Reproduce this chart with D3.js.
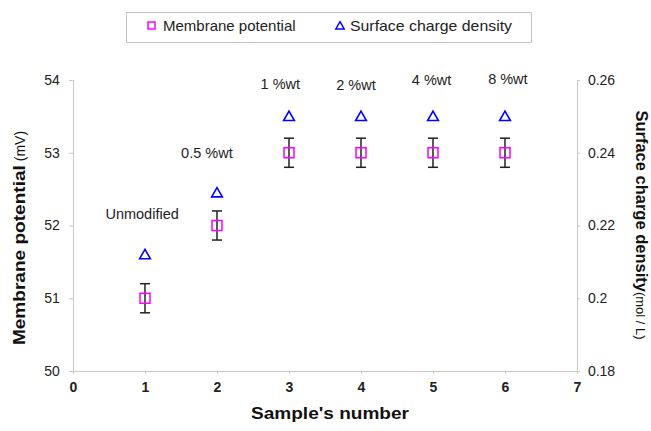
<!DOCTYPE html>
<html>
<head>
<meta charset="utf-8">
<script src="https://cdn.jsdelivr.net/npm/d3@7"></script>
<style>
  body { margin: 0; background: #fff; }
  text { font-family: "Liberation Sans", Arial, sans-serif; }
</style>
</head>
<body>
<script>
const samples = [1, 2, 3, 4, 5, 6];
const potential = [51, 52, 53, 53, 53, 53];
const potentialErr = [0.2, 0.2, 0.2, 0.2, 0.2, 0.2];
const chargeDensity = [0.212, 0.229, 0.25, 0.25, 0.25, 0.25];
const sampleLabels = ["Unmodified", "0.5 %wt", "1 %wt", "2 %wt", "4 %wt", "8 %wt"];
// annotation anchor: [sample units shift, mV above the point]
const labelShift = [[-0.04, 1.09], [-0.14, 0.93], [-0.12, 0.88], [-0.07, 0.86], [-0.02, 0.93], [0.04, 0.95]];
const xTicks = [0, 1, 2, 3, 4, 5, 6, 7];
const yLeftTicks = [50, 51, 52, 53, 54];
const yRightTicks = [0.18, 0.2, 0.22, 0.24, 0.26];

const width = 651, height = 431;
const svg = d3.select("body").append("svg")
  .attr("width", width).attr("height", height);

const x = d3.scaleLinear().domain([0, 7]).range([73, 577]);
const y = d3.scaleLinear().domain([50, 54]).range([371, 80]);
const y2 = d3.scaleLinear().domain([0.18, 0.26]).range([371, 80]);

const grey = "#c8c8c8";

// axes
const xAxis = svg.append("g").attr("transform", "translate(0,371)")
  .call(d3.axisBottom(x).tickValues(xTicks).tickFormat(d3.format("d")).tickSize(3));
const yAxis = svg.append("g").attr("transform", "translate(73,0)")
  .call(d3.axisLeft(y).tickValues(yLeftTicks).tickFormat(d3.format("d")).tickSize(4));
const y2Axis = svg.append("g").attr("transform", "translate(577,0)")
  .call(d3.axisRight(y2).tickValues(yRightTicks).tickFormat(d => String(+d.toFixed(2))).tickSize(3));

[xAxis, yAxis, y2Axis].forEach(g => {
  g.selectAll("path, line").attr("stroke", grey);
  g.selectAll("text").attr("fill", "#222").attr("font-size", 14)
    .style("font-family", "Liberation Sans, Arial, sans-serif");
});
xAxis.selectAll("text").attr("font-weight", "bold").attr("dy", "1.05em");
yAxis.selectAll("text").attr("dx", "-0.45em");
y2Axis.selectAll("text").attr("dx", "0.35em");

// axis titles
svg.append("text")
  .attr("x", 330).attr("y", 419)
  .attr("text-anchor", "middle").attr("font-weight", "bold").attr("font-size", 17)
  .attr("textLength", 158).attr("lengthAdjust", "spacingAndGlyphs")
  .attr("fill", "#111").text("Sample's number");

const lt = svg.append("text")
  .attr("transform", "translate(25,238) rotate(-90)")
  .attr("text-anchor", "middle").attr("fill", "#111");
lt.append("tspan").attr("font-weight", "bold").attr("font-size", 17)
  .attr("textLength", 180).attr("lengthAdjust", "spacingAndGlyphs").text("Membrane potential");
lt.append("tspan").attr("font-size", 14).text(" (mV)");

const rt = svg.append("text")
  .attr("transform", "translate(636,225) rotate(90)")
  .attr("text-anchor", "middle").attr("fill", "#111");
rt.append("tspan").attr("font-weight", "bold").attr("font-size", 16.5).text("Surface charge density");
rt.append("tspan").attr("font-size", 13).text("(mol / L)");

// error bars
const eb = svg.append("g").attr("stroke", "#222").attr("stroke-width", 1.5);
samples.forEach((s, i) => {
  const cx = x(s);
  const top = y(potential[i] + potentialErr[i]);
  const bot = y(potential[i] - potentialErr[i]);
  eb.append("line").attr("x1", cx).attr("x2", cx).attr("y1", top).attr("y2", bot);
  eb.append("line").attr("x1", cx - 5).attr("x2", cx + 5).attr("y1", top).attr("y2", top);
  eb.append("line").attr("x1", cx - 5).attr("x2", cx + 5).attr("y1", bot).attr("y2", bot);
});

// squares
svg.append("g").selectAll("rect").data(samples).join("rect")
  .attr("x", d => x(d) - 5).attr("y", (d, i) => y(potential[i]) - 5)
  .attr("width", 10).attr("height", 10)
  .attr("fill", "none").attr("stroke", "#ff00ff").attr("stroke-width", 1.5);

// triangles
const tri = d3.symbol().type(d3.symbolTriangle).size(50);
svg.append("g").selectAll("path").data(samples).join("path")
  .attr("d", tri)
  .attr("transform", (d, i) => `translate(${x(d)},${y2(chargeDensity[i]) + 1})`)
  .attr("fill", "none").attr("stroke", "#0000ff").attr("stroke-width", 1.6);

// sample labels
svg.append("g").selectAll("text").data(sampleLabels).join("text")
  .attr("x", (d, i) => x(samples[i] + labelShift[i][0]))
  .attr("y", (d, i) => y(potential[i] + labelShift[i][1]))
  .attr("text-anchor", "middle")
  .attr("font-size", 14.5).attr("fill", "#222")
  .text(d => d);

// legend
const lg = svg.append("g");
lg.append("rect").attr("x", 126.5).attr("y", 12.5).attr("width", 405).attr("height", 30)
  .attr("fill", "#fff").attr("stroke", "#c4c4c4");
lg.append("rect").attr("x", 148).attr("y", 22).attr("width", 7).attr("height", 7)
  .attr("fill", "none").attr("stroke", "#ff00ff").attr("stroke-width", 1.5);
lg.append("text").attr("x", 163).attr("y", 31).attr("font-size", 15).attr("fill", "#222")
  .text("Membrane potential");
lg.append("path").attr("d", d3.symbol().type(d3.symbolTriangle).size(30))
  .attr("transform", "translate(340,26.5)")
  .attr("fill", "none").attr("stroke", "#0000ff").attr("stroke-width", 1.5);
lg.append("text").attr("x", 350).attr("y", 31).attr("font-size", 15).attr("fill", "#222")
  .attr("textLength", 162).attr("lengthAdjust", "spacingAndGlyphs")
  .text("Surface charge density");
</script>
</body>
</html>
